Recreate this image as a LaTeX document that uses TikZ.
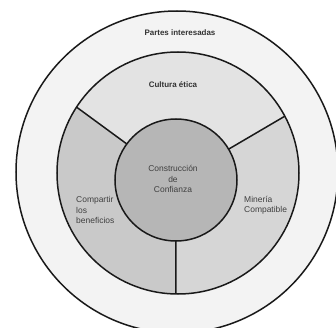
\documentclass[tikz,border=0pt]{standalone}
\usepackage{fontspec}
\setmainfont{Liberation Sans}
\begin{document}
\begin{tikzpicture}[x=1bp,y=1bp,
  ring/.style={circle, inner sep=0pt, outer sep=0pt},
  edge/.style={draw=black!90, line width=1.5bp},
  title/.style={font=\fontsize{8}{10}\selectfont\bfseries, text=black!80},
  label/.style={font=\fontsize{8.5}{10.5}\selectfont, text=black!75, inner sep=0pt}]
  \definecolor{outerc}{HTML}{F3F3F3}
  \definecolor{topc}{HTML}{E3E3E3}
  \definecolor{leftc}{HTML}{C9C9C9}
  \definecolor{rightc}{HTML}{D6D6D6}
  \definecolor{corec}{HTML}{B6B6B6}
  \useasboundingbox[fill=white] (0,0) rectangle (336,328);

  % stakeholder ring
  \node[ring, edge, fill=outerc, minimum size=322bp] (outer) at (177,156) {};
  % middle ring, split into three sectors
  \node[ring, fill=topc, minimum size=242bp] (middle) at (178,155) {};
  \node[ring, minimum size=122bp] (core) at (176,148) {};
  \fill[leftc] (middle.147.4) arc[start angle=147.4, end angle=269.5, radius=121bp]
    -- (core.center) -- cycle;
  \fill[rightc] (middle.269.5) arc[start angle=269.5, end angle=388.1, radius=121bp]
    -- (core.center) -- cycle;
  \draw[edge] (middle) circle[radius=121bp];
  \draw[edge] (core) -- (middle.147.4);
  \draw[edge] (core) -- (middle.28.1);
  \draw[edge] (core) -- (middle.269.5);
  % trust-building core
  \node[ring, edge, fill=corec, minimum size=122bp] (corefill) at (core.center) {};

  \node[title] (partes) at (180,295) {Partes interesadas};
  \node[title] (cultura) at (173,243) {Cultura ética};
  \node[label, align=center] (confianza) at (173,149) {Construcción\\de\\Confianza};
  \node[label, align=left, anchor=west] (compartir) at (76,118) {Compartir\\los\\beneficios};
  \node[label, align=left, anchor=west] (mineria) at (244,123) {Minería\\Compatible};
\end{tikzpicture}
\end{document}
